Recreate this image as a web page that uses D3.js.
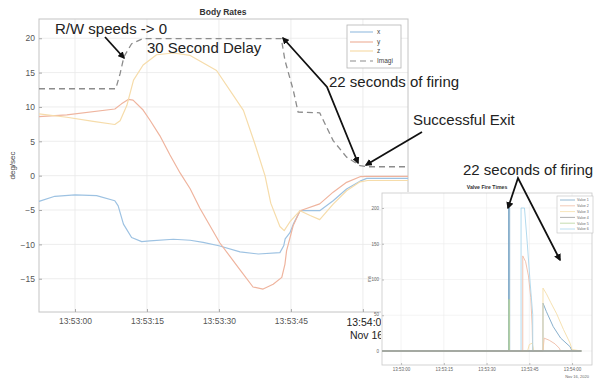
<!DOCTYPE html>
<html><head><meta charset="utf-8">
<script src="https://cdn.jsdelivr.net/npm/d3@7"></script>
<style>body{margin:0;background:#fff}svg{display:block;font-family:"Liberation Sans",Arial,sans-serif}</style>
</head><body>
<svg id="c" width="594" height="379"></svg>
<script>
// ---------- data (seconds after 13:53:00, Nov 16 2020) ----------
const rateTicks = [0, 15, 30, 45, 60];
const rateYTicks = [-15, -10, -5, 0, 5, 10, 15, 20];
const seriesNames = ["x", "y", "z", "Imagi"];
const rateX = [[-7.5,-3.75],[-4.2,-3.0],[0,-2.8],[4.5,-2.9],[8.3,-3.65],[9.0,-4.4],[10.1,-7.05],[11.8,-9.0],[13.9,-9.6],[15.6,-9.5],[20.5,-9.25],[24,-9.4],[26.7,-9.7],[30,-10.2],[34.4,-11.1],[38.2,-11.4],[42.7,-11.2],[43.5,-10.2],[43.8,-9.2],[44.8,-8.3],[45.5,-7.05],[46.9,-5.1],[51,-5.1],[53.8,-3.65],[56.6,-1.95],[59.4,-0.8],[60.8,-0.4],[69.4,-0.4]];
const rateY = [[-7.5,8.6],[-1.7,8.85],[8.3,9.7],[9.7,10.45],[11.1,11.1],[12.1,11.0],[14.2,9.55],[15.6,8.1],[17.7,5.8],[19.8,3.0],[21.9,0.4],[24,-1.9],[26,-4.7],[30.2,-9.8],[34.4,-13.7],[37.1,-16.2],[39.2,-16.5],[41.3,-15.8],[43.1,-14.8],[43.75,-12.9],[44.1,-10.9],[45.5,-7.2],[46.9,-5.1],[51,-4.1],[53.8,-2.4],[56.6,-0.97],[59.4,-0.15],[60.8,-0.1],[69.4,-0.1]];
const rateZ = [[-7.5,9.0],[-1.7,8.5],[3.8,7.9],[8.3,7.45],[9.4,8.0],[10.8,10.2],[12.2,13.9],[14.2,16.1],[17,17.6],[20.5,17.85],[24,17.5],[29.5,15.3],[35.1,9.5],[37.5,4.6],[39.6,0],[40.8,-4.0],[42.7,-7.4],[43.6,-8.0],[44.8,-6.7],[46.9,-5.1],[49,-5.8],[51,-6.4],[53.8,-4.15],[56.6,-2.2],[59.4,-0.9],[61,-0.7],[69.4,-0.7]];
const rateImagi = [[-7.5,12.65],[8.5,12.65],[9.4,14.85],[10.2,17.3],[11.8,19.2],[14.2,19.95],[43,19.95],[43.75,16.8],[45.5,12.4],[46.5,9.25],[51,9.15],[53.8,5.1],[56.6,2.7],[59.4,1.45],[60.8,1.3],[69.4,1.3]];

const valveTicks = [0, 15, 30, 45, 60];
const valveYTicks = [0, 50, 100, 150, 200];
const valveNames = ["Valve 1","Valve 2","Valve 3","Valve 4","Valve 5","Valve 6"];
const valve1 = [[-6.7,0],[37.7,0],[37.7,200],[38.1,200],[38.1,0],[49.8,0],[49.8,67],[51,55],[53.4,34],[56,18],[59.3,6],[60,0],[63.3,0]];
const valve2 = [[-6.7,0],[42.7,0],[42.7,133],[43.7,125],[44.7,105],[45.5,75],[46.0,35],[46.2,0],[49.8,0],[50.2,18],[52,15],[54,10],[55.5,4],[56,0],[63.3,0]];
const valve3 = [[-6.7,0],[44.4,0],[45,9],[46,11],[46.6,0],[49.8,0],[49.8,88],[51,80],[52.5,68],[54.6,52],[57,30],[59.3,11],[60,2],[63.3,0]];
const valve4 = [[-6.7,0],[63.3,0]];
const valve5 = [[-6.7,0],[37.8,0],[37.8,72],[38.0,72],[38.0,0],[63.3,0]];
const valve6 = [[-6.7,0],[42.1,0],[42.1,200],[43.3,200],[44.3,150],[45.3,95],[46.2,51],[46.2,0],[63.3,0]];

// ---------- setup ----------
const base = new Date(2020, 10, 16, 13, 53, 0).getTime();
const T = s => new Date(base + s * 1000);
const fmt = d3.timeFormat("%H:%M:%S");
const svg = d3.select("#c");
const FONT = '"Liberation Sans",Arial,sans-serif';

// ---------- main chart ----------
const M = {l: 39, r: 408, t: 19, b: 312};
const x = d3.scaleTime().domain([T(-7.5), T(69.4)]).range([M.l, M.r]);
const y = d3.scaleLinear().domain([-19.84, 22.8]).range([M.b, M.t]);

const grid = svg.append("g").attr("stroke", "#e8e8e8").attr("stroke-width", 0.8);
rateTicks.forEach(s => grid.append("line").attr("x1", x(T(s))).attr("x2", x(T(s))).attr("y1", M.t).attr("y2", M.b));
rateYTicks.forEach(v => grid.append("line").attr("x1", M.l).attr("x2", M.r).attr("y1", y(v)).attr("y2", y(v)));

svg.append("rect").attr("x", M.l).attr("y", M.t).attr("width", M.r - M.l).attr("height", M.b - M.t)
  .attr("fill", "none").attr("stroke", "#c4c4c4").attr("stroke-width", 1);

const xa = svg.append("g").attr("transform", `translate(0,${M.b})`)
  .call(d3.axisBottom(x).tickValues(rateTicks.map(T)).tickFormat(fmt).tickSizeInner(-3).tickSizeOuter(0).tickPadding(6));
xa.select(".domain").remove();
xa.selectAll("line").attr("stroke", "#aaa");
xa.selectAll("text").attr("fill", "#555").style("font-size", "8.5px").style("font-family", FONT);
xa.selectAll(".tick").filter(d => d.getTime() === T(60).getTime()).select("text")
  .style("font-size", "10.5px").attr("fill", "#222").attr("text-anchor", "start").attr("x", -17).attr("y", 7);
svg.append("text").attr("x", x(T(60)) - 13).attr("y", 339).attr("fill", "#222")
  .style("font-size", "10.5px").text("Nov 16, 2020");

const ya = svg.append("g").attr("transform", `translate(${M.l},0)`)
  .call(d3.axisLeft(y).tickValues(rateYTicks).tickSizeInner(-3).tickSizeOuter(0).tickPadding(4));
ya.select(".domain").remove();
ya.selectAll("line").attr("stroke", "#aaa");
ya.selectAll("text").attr("fill", "#555").style("font-size", "8.5px").style("font-family", FONT);

svg.append("text").attr("transform", `translate(15,${(M.t + M.b) / 2}) rotate(-90)`)
  .attr("text-anchor", "middle").attr("fill", "#444").style("font-size", "8px").text("deg/sec");
svg.append("text").attr("x", 223).attr("y", 15).attr("text-anchor", "middle").attr("fill", "#333")
  .style("font-size", "8.5px").style("font-weight", "bold").text("Body Rates");

const line = d3.line().x(d => x(T(d[0]))).y(d => y(d[1]));
const rateColors = ["#9dc2e2", "#efb49e", "#f6dcaa", "#8c8c8c"];
const rateData = [rateX, rateY, rateZ, rateImagi];
rateData.forEach((d, i) => {
  svg.append("path").datum(d).attr("d", line).attr("fill", "none")
    .attr("stroke", rateColors[i]).attr("stroke-width", i === 3 ? 1.3 : 1.2)
    .attr("stroke-dasharray", i === 3 ? "6,4" : null).attr("stroke-linejoin", "round");
});

// legend
const lg = svg.append("g");
lg.append("rect").attr("x", 347).attr("y", 25).attr("width", 54).attr("height", 43)
  .attr("fill", "#fff").attr("stroke", "#b5b5b5").attr("stroke-width", 0.8);
seriesNames.forEach((n, i) => {
  const yy = [32, 42, 51, 61][i];
  lg.append("line").attr("x1", 350).attr("x2", 373).attr("y1", yy).attr("y2", yy)
    .attr("stroke", rateColors[i]).attr("stroke-width", 1.2).attr("stroke-dasharray", i === 3 ? "6,4" : null);
  lg.append("text").attr("x", 377).attr("y", yy + 2).attr("fill", "#444").style("font-size", "6.5px").text(n);
});

// ---------- inset ----------
svg.append("rect").attr("x", 381).attr("y", 192).attr("width", 213).attr("height", 187).attr("fill", "#fff");
const I = {l: 382, r: 592, t: 193, b: 365};
const xi = d3.scaleTime().domain([T(-6.7), T(67)]).range([I.l, I.r]);
const yi = d3.scaleLinear().domain([-19.6, 221]).range([I.b, I.t]);
const ig = svg.append("g").attr("stroke", "#ececec").attr("stroke-width", 0.6);
valveTicks.forEach(s => ig.append("line").attr("x1", xi(T(s))).attr("x2", xi(T(s))).attr("y1", I.t).attr("y2", I.b));
valveYTicks.forEach(v => ig.append("line").attr("x1", I.l).attr("x2", I.r).attr("y1", yi(v)).attr("y2", yi(v)));
svg.append("rect").attr("x", I.l).attr("y", I.t).attr("width", I.r - I.l).attr("height", I.b - I.t)
  .attr("fill", "none").attr("stroke", "#c8c8c8").attr("stroke-width", 0.8);

const xia = svg.append("g").attr("transform", `translate(0,${I.b})`)
  .call(d3.axisBottom(xi).tickValues(valveTicks.map(T)).tickFormat(fmt).tickSizeInner(-2).tickSizeOuter(0).tickPadding(3));
xia.select(".domain").remove();
xia.selectAll("line").attr("stroke", "#bbb");
xia.selectAll("text").attr("fill", "#666").style("font-size", "4.5px").style("font-family", FONT);
svg.append("text").attr("x", xi(T(60)) + 5).attr("y", 378).attr("text-anchor", "middle").attr("fill", "#666")
  .style("font-size", "4px").text("Nov 16, 2020");

const yia = svg.append("g").attr("transform", `translate(${I.l},0)`)
  .call(d3.axisLeft(yi).tickValues(valveYTicks).tickSizeInner(-2).tickSizeOuter(0).tickPadding(3));
yia.select(".domain").remove();
yia.selectAll("line").attr("stroke", "#bbb");
yia.selectAll("text").attr("fill", "#666").style("font-size", "4.5px").style("font-family", FONT);
yia.selectAll(".tick").filter(d => d === 50).select("text").attr("dy", "0.1em");
svg.append("text").attr("transform", `translate(371,${(I.t + I.b) / 2}) rotate(-90)`)
  .attr("text-anchor", "middle").attr("fill", "#666").style("font-size", "4.5px").text("ms");
svg.append("text").attr("x", 487).attr("y", 189).attr("text-anchor", "middle").attr("fill", "#333")
  .style("font-size", "5.2px").style("font-weight", "bold").text("Valve Fire Times");

const vline = d3.line().x(d => xi(T(d[0]))).y(d => yi(d[1]));
const valveColors = ["#7aa6c6", "#efbca6", "#f5dea8", "#9b9b9b", "#b6d39c", "#a9d6ec"];
const valveData = [valve1, valve2, valve3, valve4, valve5, valve6];
const order = [0, 1, 2, 5, 4, 3];
order.forEach(i => {
  svg.append("path").datum(valveData[i]).attr("d", vline).attr("fill", "none")
    .attr("stroke", valveColors[i]).attr("stroke-width", i === 3 ? 1.5 : 0.9);
});

const vl = svg.append("g");
vl.append("rect").attr("x", 557).attr("y", 196).attr("width", 36).attr("height", 37)
  .attr("fill", "#fff").attr("stroke", "#c0c0c0").attr("stroke-width", 0.6);
valveNames.forEach((n, i) => {
  const yy = 200 + i * 5.8;
  vl.append("line").attr("x1", 560).attr("x2", 575).attr("y1", yy).attr("y2", yy)
    .attr("stroke", valveColors[i]).attr("stroke-width", 0.8);
  vl.append("text").attr("x", 577).attr("y", yy + 1.3).attr("fill", "#666").style("font-size", "3.6px").text(n);
});

// ---------- annotations ----------
const defs = svg.append("defs");
defs.append("marker").attr("id", "ah").attr("viewBox", "0 0 10 10").attr("refX", 8).attr("refY", 5)
  .attr("markerWidth", 4).attr("markerHeight", 4).attr("orient", "auto-start-reverse")
  .append("path").attr("d", "M0,0L10,5L0,10z").attr("fill", "#111");
const ann = svg.append("g").style("font-size", "15px").attr("fill", "#222");
ann.append("text").attr("x", 55).attr("y", 34).text("R/W speeds -> 0");
ann.append("text").attr("x", 147).attr("y", 53).text("30 Second Delay");
ann.append("text").attr("x", 329).attr("y", 87).text("22 seconds of firing");
ann.append("text").attr("x", 413).attr("y", 125).text("Successful Exit");
ann.append("text").attr("x", 463).attr("y", 175).text("22 seconds of firing");
const arr = (pts, start) => svg.append("path").attr("d", d3.line()(pts)).attr("fill", "none")
  .attr("stroke", "#111").attr("stroke-width", 1.8)
  .attr("marker-end", "url(#ah)").attr("marker-start", start ? "url(#ah)" : null);
arr([[105, 37], [124, 58]]);
arr([[283, 38], [327, 87], [358, 163]], true);
arr([[422, 132], [366, 165]]);
arr([[508, 208], [518, 178], [560, 260]], true);
</script>
</body></html>
